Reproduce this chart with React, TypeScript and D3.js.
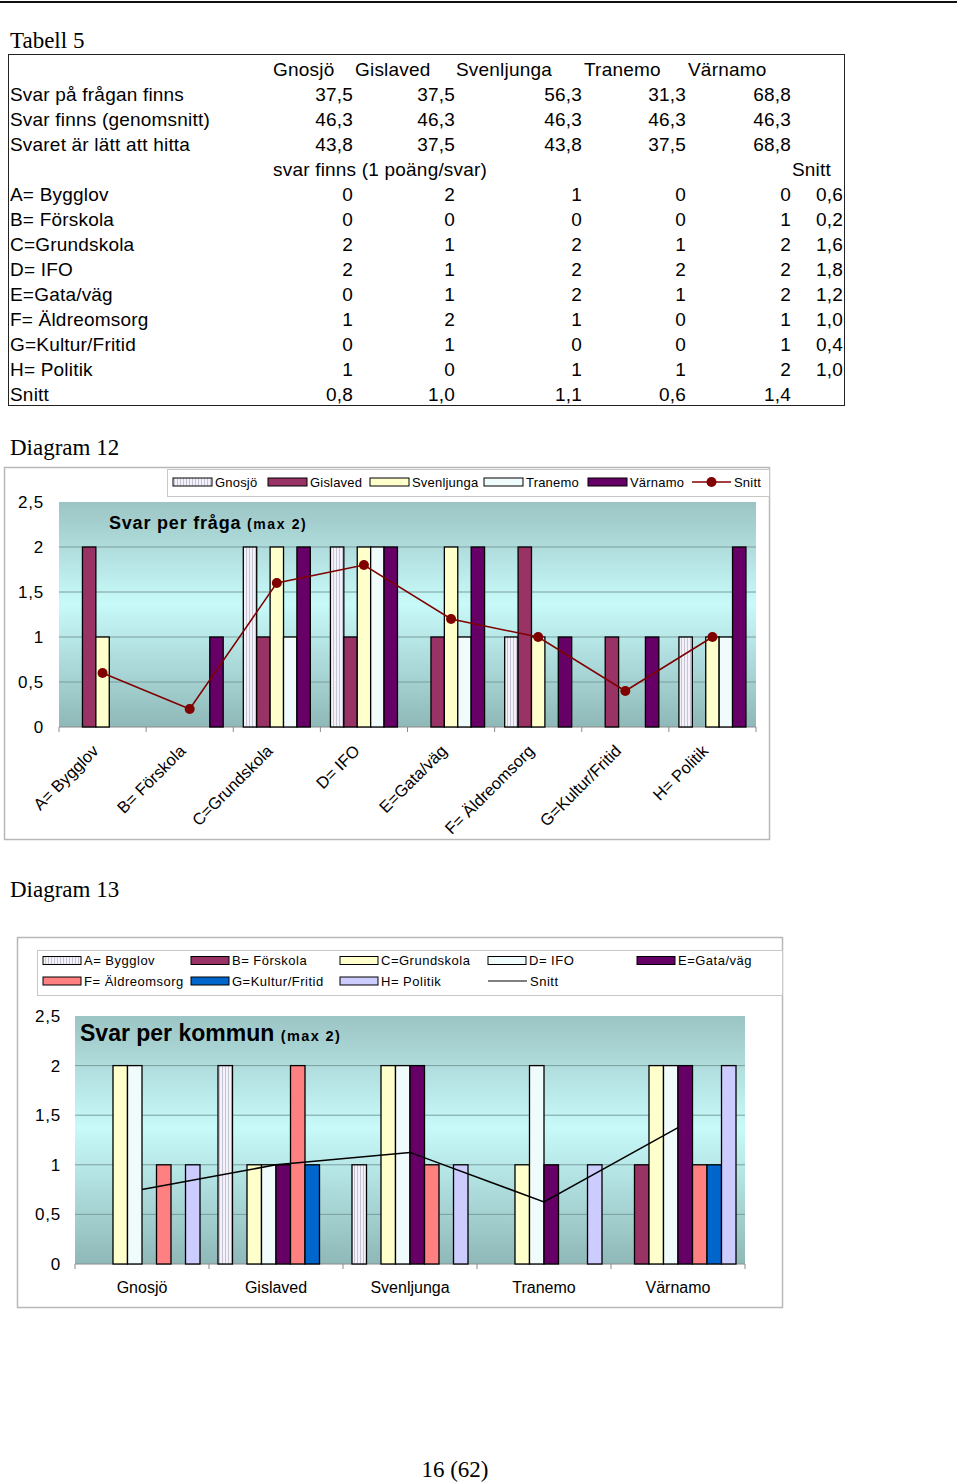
import React from 'react';
import * as d3 from 'd3';

// ---------- DATA ----------
const kommuner = ['Gnosjö', 'Gislaved', 'Svenljunga', 'Tranemo', 'Värnamo'];
const svarPaFragan = [37.5, 37.5, 56.3, 31.3, 68.8];
const svarGenomsnitt = [46.3, 46.3, 46.3, 46.3, 46.3];
const svaretLatt = [43.8, 37.5, 43.8, 37.5, 68.8];
const fragor = ['A= Bygglov', 'B= Förskola', 'C=Grundskola', 'D= IFO', 'E=Gata/väg', 'F= Äldreomsorg', 'G=Kultur/Fritid', 'H= Politik'];
const bygglov = [0, 2, 1, 0, 0];
const forskola = [0, 0, 0, 0, 1];
const grundskola = [2, 1, 2, 1, 2];
const ifo = [2, 1, 2, 2, 2];
const gataVag = [0, 1, 2, 1, 2];
const aldreomsorg = [1, 2, 1, 0, 1];
const kulturFritid = [0, 1, 0, 0, 1];
const politik = [1, 0, 1, 1, 2];
const poang = [bygglov, forskola, grundskola, ifo, gataVag, aldreomsorg, kulturFritid, politik];
const snittFraga = [0.6, 0.2, 1.6, 1.8, 1.2, 1.0, 0.4, 1.0];
const snittKommun = [0.75, 1.0, 1.125, 0.625, 1.375];
const yTicks = [0, 0.5, 1, 1.5, 2, 2.5];

// ---------- STYLE ----------
const SANS = '"Liberation Sans", Arial, sans-serif';
const SERIF = '"Liberation Serif", "Times New Roman", serif';
const kommunFill = ['url(#stripe)', '#993366', '#ffffcc', '#f0fcfc', '#660066'];
const fragaFill = ['url(#stripe)', '#993366', '#ffffcc', '#f0fcfc', '#660066', '#ff8080', '#0066cc', '#ccccff'];
const comma = (v: number) => String(v).replace('.', ',');
const fmt1 = (v: number) => v.toFixed(1).replace('.', ',');

function Table() {
  const colRight = [353, 455, 582, 686, 791];
  const headX = [273, 355, 456, 584, 688];
  const rowY = (i: number) => 76 + i * 25;
  const rows: React.ReactNode[] = [];
  const textRows: [string, number[], (v: number) => string][] = [
    ['Svar på frågan finns', svarPaFragan, fmt1],
    ['Svar finns (genomsnitt)', svarGenomsnitt, fmt1],
    ['Svaret är lätt att hitta', svaretLatt, fmt1],
  ];
  textRows.forEach(([label, vals, f], r) => {
    rows.push(<text key={'l' + r} x={10} y={rowY(r + 1)}>{label}</text>);
    vals.forEach((v, c) => rows.push(<text key={'v' + r + c} x={colRight[c]} y={rowY(r + 1)} textAnchor="end">{f(v)}</text>));
  });
  rows.push(<text key="sf" x={273} y={rowY(4)}>svar finns (1 poäng/svar)</text>);
  rows.push(<text key="sn" x={831} y={rowY(4)} textAnchor="end">Snitt</text>);
  fragor.forEach((fr, r) => {
    rows.push(<text key={'f' + r} x={10} y={rowY(r + 5)}>{fr}</text>);
    poang[r].forEach((v, c) => rows.push(<text key={'p' + r + c} x={colRight[c]} y={rowY(r + 5)} textAnchor="end">{String(v)}</text>));
    rows.push(<text key={'s' + r} x={843} y={rowY(r + 5)} textAnchor="end">{fmt1(snittFraga[r])}</text>);
  });
  rows.push(<text key="snl" x={10} y={rowY(13)}>Snitt</text>);
  snittKommun.forEach((v, c) => rows.push(<text key={'sk' + c} x={colRight[c]} y={rowY(13)} textAnchor="end">{fmt1(v)}</text>));
  return (
    <g fontFamily={SANS} fontSize={19} letterSpacing={0.2} fill="#000">
      <text x={10} y={48} fontFamily={SERIF} fontSize={23} letterSpacing={0}>Tabell 5</text>
      <rect x={8.5} y={54.5} width={836} height={351} fill="none" stroke="#222" strokeWidth={1} />
      {kommuner.map((k, i) => <text key={k} x={headX[i]} y={rowY(0)}>{k}</text>)}
      {rows}
    </g>
  );
}

function Diagram12() {
  const x = d3.scaleBand<string>().domain(fragor).range([59, 756]);
  const xi = d3.scaleBand<string>().domain(kommuner).range([0, x.bandwidth()]).paddingOuter(0.75);
  const y = d3.scaleLinear().domain([0, 2.5]).range([727, 502]);
  const line = d3.line<number>().x((_, i) => (x(fragor[i]) as number) + x.bandwidth() / 2).y(d => y(d));
  const legendX = [173, 268, 370, 484, 588];
  const ly = 482;
  return (
    <g>
      <text x={10} y={455} fontFamily={SERIF} fontSize={23}>Diagram 12</text>
      <rect x={4.5} y={467.5} width={765} height={372} fill="#fff" stroke="#b8b8b8" strokeWidth={1.5} />
      <rect x={167.5} y={469.5} width={602} height={27} fill="#fff" stroke="#c8c8c8" strokeWidth={1} />
      <g fontFamily={SANS} fontSize={13} letterSpacing={0.2}>
        {kommuner.map((k, i) => (
          <g key={k}>
            <rect x={legendX[i]} y={ly - 4} width={39} height={8} fill={kommunFill[i]} stroke="#000" strokeWidth={1} />
            <text x={legendX[i] + 42} y={ly + 4.5}>{k}</text>
          </g>
        ))}
        <line x1={692} x2={731} y1={ly} y2={ly} stroke="#800000" strokeWidth={1.5} />
        <circle cx={711.5} cy={ly} r={5} fill="#800000" />
        <text x={734} y={ly + 4.5}>Snitt</text>
      </g>
      <rect x={59} y={y(2.5)} width={697} height={y(0) - y(2.5)} fill="url(#grad12)" />
      {yTicks.filter(t => t > 0 && t < 2.5).map(t => (
        <line key={t} x1={59} x2={756} y1={y(t)} y2={y(t)} stroke="#7a9e9e" strokeWidth={1} />
      ))}
      <line x1={59} x2={756} y1={y(0)} y2={y(0)} stroke="#8a8a8a" strokeWidth={1} />
      {fragor.map(f => (
        <line key={f} x1={x(f) as number} x2={x(f) as number} y1={y(0)} y2={y(0) + 5} stroke="#8a8a8a" />
      ))}
      <line x1={756} x2={756} y1={y(0)} y2={y(0) + 5} stroke="#8a8a8a" />
      <g fontFamily={SANS} fontSize={17} letterSpacing={0.8} textAnchor="end">
        {yTicks.map(t => <text key={t} x={44} y={y(t) + 6}>{comma(t)}</text>)}
      </g>
      <text x={109} y={529} fontFamily={SANS} fontWeight="bold" fontSize={18} letterSpacing={0.8}>
        Svar per fråga <tspan fontSize={14} letterSpacing={1.6}>(max 2)</tspan>
      </text>
      {fragor.map((f, fi) => kommuner.map((k, ki) => {
        const v = poang[fi][ki];
        if (v <= 0) return null;
        return <rect key={f + k} x={(x(f) as number) + (xi(k) as number)} y={y(v)} width={xi.bandwidth()} height={y(0) - y(v)}
          fill={kommunFill[ki]} stroke="#000" strokeWidth={1.3} />;
      }))}
      <path d={line(snittFraga) as string} fill="none" stroke="#800000" strokeWidth={1.5} />
      {snittFraga.map((v, i) => (
        <circle key={i} cx={(x(fragor[i]) as number) + x.bandwidth() / 2} cy={y(v)} r={5} fill="#800000" />
      ))}
      <g fontFamily={SANS} fontSize={16.5} textAnchor="end">
        {fragor.map(f => {
          const cx = (x(f) as number) + x.bandwidth() / 2 - 3;
          const cy = 752;
          return <text key={f} transform={`translate(${cx},${cy}) rotate(-45)`}>{f}</text>;
        })}
      </g>
    </g>
  );
}

function Diagram13() {
  const x = d3.scaleBand<string>().domain(kommuner).range([75, 745]);
  const xi = d3.scaleBand<string>().domain(fragor).range([0, x.bandwidth()]).paddingOuter(0.62);
  const y = d3.scaleLinear().domain([0, 2.5]).range([1264, 1016]);
  const line = d3.line<number>().x((_, i) => (x(kommuner[i]) as number) + x.bandwidth() / 2).y(d => y(d));
  const colX = [43, 191, 340, 488, 637];
  const rowsY = [960.5, 981];
  return (
    <g>
      <text x={10} y={897} fontFamily={SERIF} fontSize={23}>Diagram 13</text>
      <rect x={17.5} y={937.5} width={765} height={370} fill="#fff" stroke="#b8b8b8" strokeWidth={1.5} />
      <rect x={37.5} y={950.5} width={745} height={45} fill="#fff" stroke="#c8c8c8" strokeWidth={1} />
      <g fontFamily={SANS} fontSize={13} letterSpacing={0.5}>
        {fragor.map((f, i) => {
          const cx = colX[i % 5];
          const cy = rowsY[Math.floor(i / 5)];
          return (
            <g key={f}>
              <rect x={cx} y={cy - 4} width={38} height={8} fill={fragaFill[i]} stroke="#000" strokeWidth={1} />
              <text x={cx + 41} y={cy + 4.5}>{f}</text>
            </g>
          );
        })}
        <line x1={colX[3]} x2={colX[3] + 39} y1={rowsY[1]} y2={rowsY[1]} stroke="#000" strokeWidth={1.2} />
        <text x={colX[3] + 42} y={rowsY[1] + 4.5}>Snitt</text>
      </g>
      <rect x={75} y={y(2.5)} width={670} height={y(0) - y(2.5)} fill="url(#grad13)" />
      {yTicks.filter(t => t > 0 && t < 2.5).map(t => (
        <line key={t} x1={75} x2={745} y1={y(t)} y2={y(t)} stroke="#7a9e9e" strokeWidth={1} />
      ))}
      <line x1={75} x2={745} y1={y(0)} y2={y(0)} stroke="#8a8a8a" strokeWidth={1} />
      {kommuner.map(k => (
        <line key={k} x1={x(k) as number} x2={x(k) as number} y1={y(0)} y2={y(0) + 5} stroke="#8a8a8a" />
      ))}
      <line x1={745} x2={745} y1={y(0)} y2={y(0) + 5} stroke="#8a8a8a" />
      <g fontFamily={SANS} fontSize={17} letterSpacing={0.8} textAnchor="end">
        {yTicks.map(t => <text key={t} x={61} y={y(t) + 6}>{comma(t)}</text>)}
      </g>
      <text x={80} y={1041} fontFamily={SANS} fontWeight="bold" fontSize={23}>
        Svar per kommun <tspan fontSize={14.5} letterSpacing={1.4}>(max 2)</tspan>
      </text>
      {kommuner.map((k, ki) => fragor.map((f, fi) => {
        const v = poang[fi][ki];
        if (v <= 0) return null;
        return <rect key={k + f} x={(x(k) as number) + (xi(f) as number)} y={y(v)} width={xi.bandwidth()} height={y(0) - y(v)}
          fill={fragaFill[fi]} stroke="#000" strokeWidth={1.3} />;
      }))}
      <path d={line(snittKommun) as string} fill="none" stroke="#000" strokeWidth={1.5} />
      <g fontFamily={SANS} fontSize={16} textAnchor="middle">
        {kommuner.map(k => <text key={k} x={(x(k) as number) + x.bandwidth() / 2} y={1293}>{k}</text>)}
      </g>
    </g>
  );
}

export default function App() {
  return (
    <svg width={960} height={1483} style={{ position: 'absolute', left: 0, top: 0, background: '#fff' }}>
      <defs>
        <pattern id="stripe" width={3} height={4} patternUnits="userSpaceOnUse">
          <rect width={3} height={4} fill="#f2f2f8" />
          <rect width={1} height={4} fill="#c4c4d6" />
        </pattern>
        <linearGradient id="grad12" x1="0" y1="0" x2="0" y2="1">
          <stop offset="0" stopColor="#9cc4c4" />
          <stop offset="0.45" stopColor="#c8fafa" />
          <stop offset="1" stopColor="#8fb8b8" />
        </linearGradient>
        <linearGradient id="grad13" x1="0" y1="0" x2="0" y2="1">
          <stop offset="0" stopColor="#9cc4c4" />
          <stop offset="0.45" stopColor="#c8fafa" />
          <stop offset="1" stopColor="#8fb8b8" />
        </linearGradient>
      </defs>
      <rect width={960} height={1483} fill="#fff" />
      <line x1={0} x2={957} y1={2} y2={2} stroke="#111" strokeWidth={2} />
      <Table />
      <Diagram12 />
      <Diagram13 />
      <text x={455} y={1477} textAnchor="middle" fontFamily={SERIF} fontSize={23}>16 (62)</text>
    </svg>
  );
}
